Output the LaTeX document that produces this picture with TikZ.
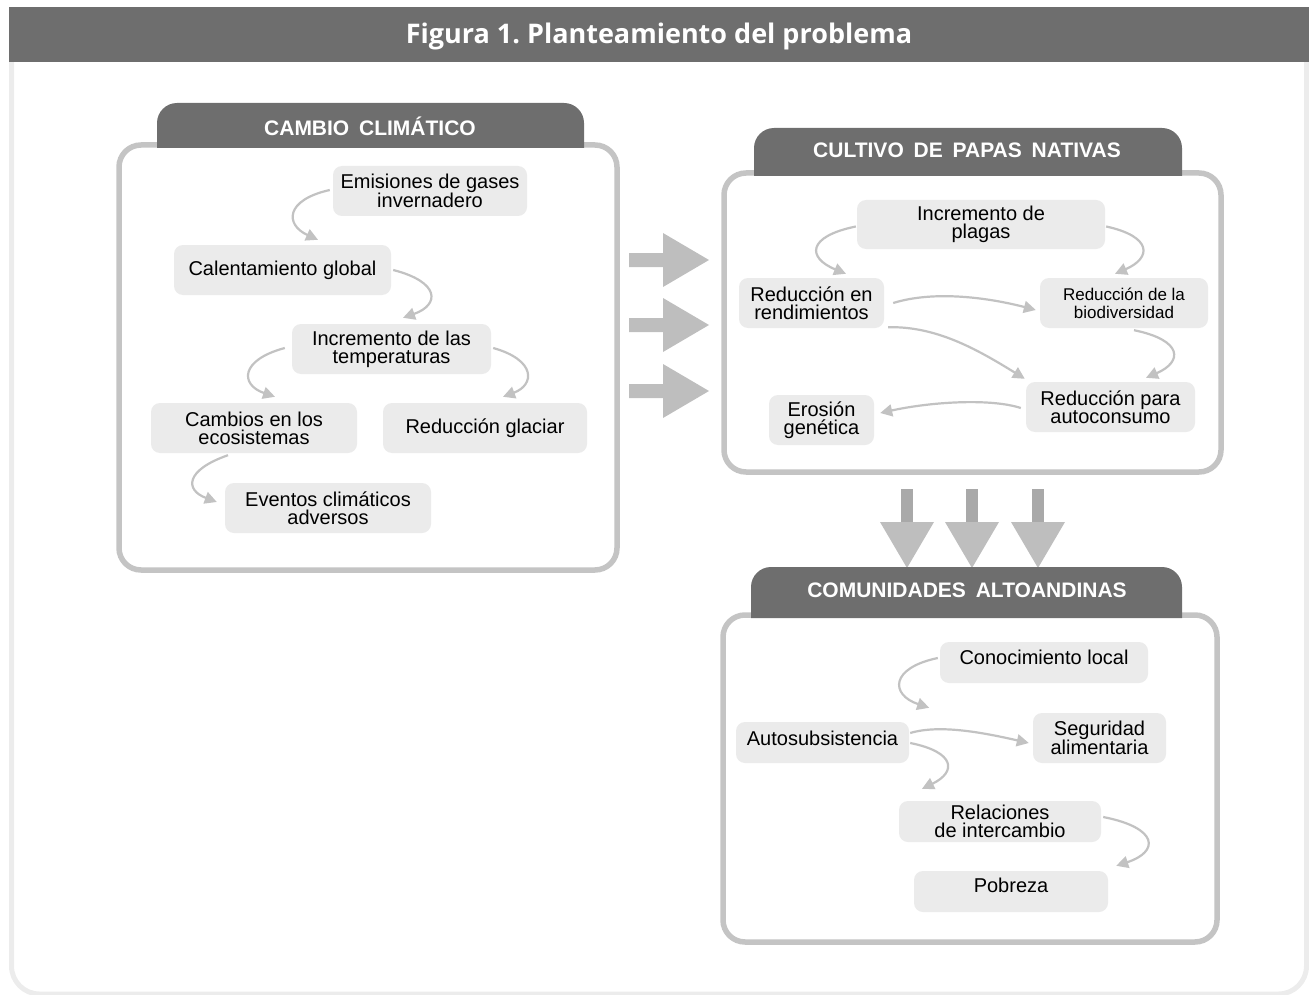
\documentclass[tikz,border=0pt]{standalone}
\usepackage{fontspec}
\setmainfont{Liberation Sans}
\newfontfamily\titlefont{Open Sans}
\usetikzlibrary{arrows.meta,calc}
\definecolor{tabgray}{HTML}{6E6E6E}
\definecolor{framegray}{HTML}{C4C4C4}
\definecolor{boxgray}{HTML}{EBEBEB}
\definecolor{arrowgray}{HTML}{C2C2C2}
\definecolor{bigarrow}{HTML}{BEBEBE}
\definecolor{shaftgray}{HTML}{A9A9A9}
\definecolor{pageline}{HTML}{ECECEC}
\frenchspacing
\newcommand\upby[2]{\raisebox{#1}[\height][\depth]{#2}}
\newcommand\mytab[4]{% x1, x2, ytop, ybottom
  \fill[tabgray] (#1,#4) -- (#1,#3+20) arc[start angle=180,end angle=270,radius=20]
    -- (#2-20,#3) arc[start angle=270,end angle=360,radius=20] -- (#2,#4) -- cycle;}
\begin{document}
\begin{tikzpicture}[x=1pt,y=-1pt,
  box/.style={fill=boxgray, rounded corners=9pt, inner sep=0pt, align=center,
    font=\fontsize{20}{18}\selectfont, text=black},
  smallbox/.style={box, font=\fontsize{17}{18}\selectfont},
  frame/.style={draw=framegray, line width=5.5pt, rounded corners=22pt, fill=white},
  tabtext/.style={text=white, font=\fontsize{21}{24}\selectfont\bfseries, inner sep=0pt},
  conn/.style={draw=arrowgray, line width=2.2pt, -{Triangle[length=12pt,width=12pt]}},
  rightarrow/.style={fill=bigarrow},
  shaft/.style={fill=shaftgray},
]
\useasboundingbox (0,0) rectangle (1309,995);
% page frame and title
\draw[pageline, line width=5pt, rounded corners=28pt] (11.5,62) -- (11.5,994) -- (1306.5,994) -- (1306.5,62);
\fill[tabgray] (9,7) rectangle (1309,62);
\node[text=white, font=\titlefont\fontsize{27}{32}\selectfont\bfseries, inner sep=0pt] (title) at (659,36) {Figura 1. Planteamiento del problema};

% ---------- Section 1 ----------
\path[frame] (119,145) rectangle (617,570);
\mytab{157}{584}{103}{148}
\node[tabtext] (tab1) at (370,126) {CAMBIO\hspace{4pt} CLIMÁTICO};
\node[box, minimum width=194, minimum height=50] (emis) at (430,191) {Emisiones de gases\\invernadero};
\node[box, minimum width=217, minimum height=50] (calent) at (282.5,270) {Calentamiento global};
\node[box, minimum width=199, minimum height=50] (incr) at (391.5,349) {Incremento de las\\temperaturas};
\node[box, minimum width=206, minimum height=50] (cambios) at (254,428) {Cambios en los\\ecosistemas};
\node[box, minimum width=204, minimum height=50] (glaciar) at (485,428) {Reducción glaciar};
\node[box, minimum width=206, minimum height=50] (eventos) at (328,508) {Eventos climáticos\\adversos};

\draw[conn] ($(emis.west)+(-3,-1)$) .. controls +(-45,10) and +(-33,-15) .. ($(calent.north)+(35.5,-5)$);
\draw[conn] ($(calent.east)+(2,0)$) .. controls +(47,12) and +(37,-13) .. ($(incr.north)+(11.5,-6)$);
\draw[conn] ($(incr.west)+(-7,-1)$) .. controls +(-45,12) and +(-35,-12) .. ($(cambios.north)+(21,-6)$);
\draw[conn] ($(incr.east)+(2,-1)$) .. controls +(43,12) and +(32,-12) .. ($(glaciar.north)+(18,-6)$);
\draw[conn] ($(cambios.south)+(-26,2)$) .. controls +(-43,15) and +(-32,-12) .. ($(eventos.west)+(-8,-6)$);

% ---------- big right arrows ----------
\foreach \c in {260,325,391}{
  \fill[rightarrow] (629,\c-7) -- (663,\c-7) -- (663,\c-27) -- (709,\c) -- (663,\c+27) -- (663,\c+7) -- (629,\c+7) -- cycle;
}

% ---------- Section 2 ----------
\path[frame] (724,173) rectangle (1221,472);
\mytab{754}{1182}{128}{176}
\node[tabtext] (tab2) at (967,150) {CULTIVO\hspace{4pt} DE\hspace{4pt} PAPAS\hspace{4pt} NATIVAS};
\node[box, minimum width=248, minimum height=49] (plagas) at (981,224.5) {Incremento de\\plagas};
\node[box, minimum width=145, minimum height=50] (rend) at (811.5,303) {Reducción en\\rendimientos};
\node[smallbox, minimum width=168, minimum height=50] (biod) at (1124,303) {Reducción de la\\biodiversidad};
\node[box, minimum width=169, minimum height=50] (autoc) at (1110.5,407) {Reducción para\\autoconsumo};
\node[box, minimum width=105, minimum height=50] (eros) at (821.5,420) {Erosión\\genética};

\draw[conn] ($(plagas.west)+(-1,2)$) .. controls +(-49,10) and +(-39,-16) .. ($(rend.north)+(34.5,-4)$);
\draw[conn] ($(plagas.east)+(1,2)$) .. controls +(46,10) and +(37,-16) .. ($(biod.north)+(-9,-4)$);
\draw[conn] ($(rend.east)+(9,0)$) .. controls +(42,-13) and +(-46,-12) .. ($(biod.west)+(-4,7)$);
\draw[conn] ($(rend.south east)+(4,-1)$) .. controls +(47,-1) and +(-50,-31) .. ($(autoc.north west)+(-1,-3)$);
\draw[conn] ($(biod.south)+(10,2)$) .. controls +(49,10) and +(37,-16) .. ($(autoc.north)+(35.5,-4)$);
\draw[conn] ($(autoc.west)+(-5,1)$) .. controls +(-31,-10) and +(50,-11) .. ($(eros.east)+(6,-7)$);

% ---------- big down arrows ----------
\foreach \c in {907,972,1038}{
  \fill[shaft] (\c-6,489) rectangle (\c+6,523);
  \fill[rightarrow] (\c-27,522) -- (\c+27,522) -- (\c,568) -- cycle;
}

% ---------- Section 3 ----------
\path[frame] (723,615) rectangle (1217,942);
\mytab{751}{1182}{567}{618}
\node[tabtext] (tab3) at (967,590) {COMUNIDADES\hspace{4pt} ALTOANDINAS};
\node[box, minimum width=208, minimum height=41] (conoc) at (1044,662.5) {\upby{5pt}{Conocimiento local}};
\node[box, minimum width=173, minimum height=41] (autosub) at (822.5,742.5) {\upby{4pt}{Autosubsistencia}};
\node[box, minimum width=133, minimum height=50] (segur) at (1099.5,738) {Seguridad\\alimentaria};
\node[box, minimum width=202, minimum height=41] (relac) at (1000,821.5) {Relaciones\\de intercambio};
\node[box, minimum width=194, minimum height=41] (pobreza) at (1011,891.5) {\upby{6pt}{Pobreza}};

\draw[conn] ($(conoc.west)+(-2,-4.5)$) .. controls +(-48,10) and +(-39,-13) .. ($(autosub.north east)+(20,-14)$);
\draw[conn] ($(autosub.east)+(1,-9.5)$) .. controls +(30,-9) and +(-44,-10) .. ($(segur.west)+(-4,5)$);
\draw[conn] ($(autosub.east)+(1,0.5)$) .. controls +(45,9) and +(35,-17) .. ($(relac.north)+(-78,-12)$);
\draw[conn] ($(relac.east)+(2,-4.5)$) .. controls +(56,11) and +(43,-14) .. ($(pobreza.north east)+(8,-5)$);
\end{tikzpicture}
\end{document}
